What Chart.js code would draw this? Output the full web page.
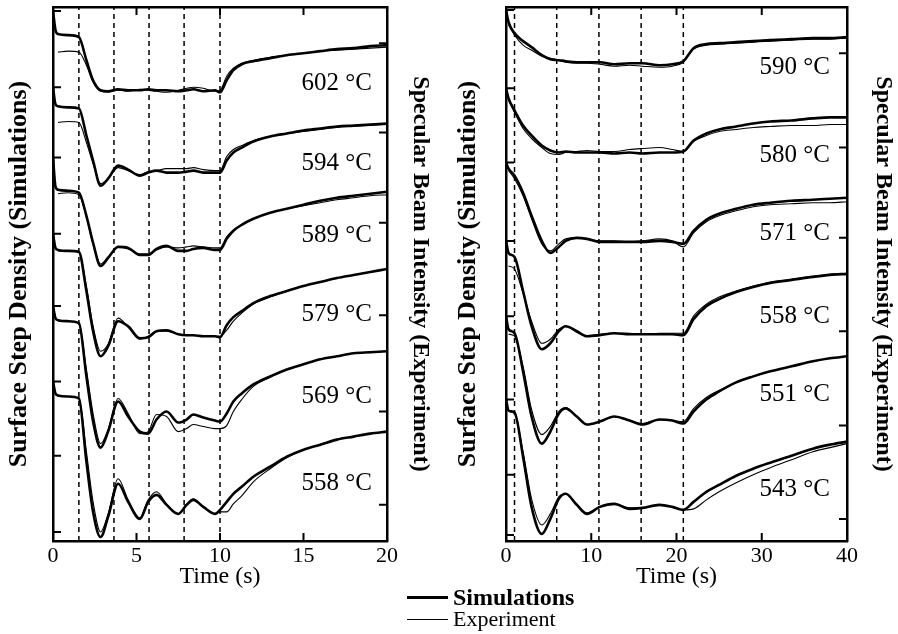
<!DOCTYPE html>
<html>
<head>
<meta charset="utf-8">
<script src="https://cdn.jsdelivr.net/npm/chart.js@4.4.1/dist/chart.umd.min.js"></script>
<style>
  html, body { margin: 0; padding: 0; background: #fff; }
  #wrap { position: relative; width: 898px; height: 634px; font-family: "Liberation Serif", serif; color: #000; }
  #leftChart { position: absolute; left: 0; top: 0; }
  #rightChart { position: absolute; left: 450px; top: 0; }
  .key { position: absolute; left: 407px; width: 41px; background: #000; }
  .keyText { position: absolute; left: 453px; line-height: 1; }
</style>
</head>
<body>
<div id="wrap">
  <canvas id="leftChart" width="440" height="600"></canvas>
  <canvas id="rightChart" width="448" height="600"></canvas>
  <div class="key" style="top:596px;height:3px"></div>
  <div class="keyText" style="top:585px;font-size:24px;font-weight:bold">Simulations</div>
  <div class="key" style="top:619px;height:1.2px"></div>
  <div class="keyText" style="top:608px;font-size:22px">Experiment</div>
</div>
<script>
// ---- left panel (0-20 s), arbitrary intensity units, curves stacked ----
const timeLeft = [0, 0.15, 0.3, 0.9, 1.55, 2.0, 2.4, 2.85, 3.3, 3.9, 4.5, 5.2, 5.7, 6.2, 6.8, 7.5, 8.0, 8.4, 9.0, 9.7, 10.0, 10.4, 10.8, 11.3, 12, 13, 14, 15, 16, 17, 18, 19, 20];
const sim602 = [52.8, 50.9, 50.5, 50.4, 50.2, 47.9, 45.9, 44.9, 44.8, 45.0, 44.9, 44.9, 45.0, 44.9, 44.9, 44.8, 44.9, 45.0, 44.8, 44.9, 44.7, 45.9, 46.9, 47.5, 47.8, 48.1, 48.4, 48.6, 48.8, 49.0, 49.1, 49.3, 49.4];
const exp602 = [null, null, 48.7, 48.8, 48.7, 47.4, 45.7, 44.8, 44.7, 44.9, 44.8, 45.0, 44.9, 44.8, 44.7, 44.9, 45.1, 45.2, 45.1, 44.8, 44.9, 46.3, 47.1, 47.6, 47.9, 48.2, 48.4, 48.6, 48.8, 48.9, 49.0, 49.1, 49.2];
const sim594 = [45.2, 43.5, 43.3, 43.2, 43.1, 40.4, 37.9, 35.4, 36.1, 37.4, 37.0, 36.4, 36.7, 36.9, 36.7, 36.7, 36.8, 36.9, 36.7, 36.7, 36.7, 37.9, 38.7, 39.2, 39.8, 40.3, 40.6, 40.9, 41.1, 41.3, 41.4, 41.5, 41.6];
const exp594 = [null, null, 41.7, 41.8, 41.7, 39.7, 37.6, 35.6, 36.1, 37.2, 36.9, 36.5, 36.8, 36.9, 37.1, 37.1, 37.1, 37.2, 37.0, 36.9, 36.9, 38.3, 39.0, 39.4, 39.9, 40.3, 40.6, 40.8, 41.0, 41.2, 41.3, 41.4, 41.5];
const sim589 = [38.2, 35.3, 35.0, 34.9, 34.7, 32.4, 29.7, 27.4, 28.2, 29.3, 29.2, 28.5, 28.5, 29.1, 29.4, 28.9, 28.9, 29.1, 29.2, 29.0, 29.0, 30.1, 30.9, 31.5, 32.1, 32.7, 33.1, 33.5, 33.9, 34.2, 34.4, 34.6, 34.8];
const exp589 = [null, null, 34.6, 34.7, 34.5, 32.3, 29.6, 27.6, 28.3, 29.3, 29.1, 28.6, 28.6, 29.0, 29.3, 29.2, 29.3, 29.4, 29.3, 29.2, 29.2, 30.3, 31.0, 31.5, 32.1, 32.7, 33.1, 33.4, 33.7, 34.0, 34.2, 34.4, 34.5];
const sim579 = [30.6, 29.2, 29.0, 28.9, 28.8, 24.9, 20.9, 18.4, 19.4, 21.9, 21.4, 20.2, 20.3, 20.9, 21.0, 20.6, 20.5, 20.5, 20.4, 20.4, 20.3, 21.5, 22.3, 22.9, 23.7, 24.4, 24.9, 25.4, 25.8, 26.2, 26.5, 26.8, 27.1];
const exp579 = [null, null, 28.9, 28.9, 28.8, 25.4, 21.4, 18.9, 19.6, 22.2, 21.3, 20.1, 20.4, 20.9, 20.9, 20.6, 20.5, 20.5, 20.4, 20.4, 20.4, 21.0, 21.9, 22.7, 23.6, 24.3, 24.9, 25.4, 25.8, 26.2, 26.5, 26.8, 27.1];
const sim569 = [23.4, 22.2, 22.0, 21.9, 21.7, 16.4, 11.9, 9.3, 10.9, 13.9, 12.4, 10.9, 10.7, 12.1, 12.9, 11.8, 12.1, 12.6, 12.3, 12.0, 11.9, 12.7, 13.9, 14.7, 15.6, 16.4, 17.1, 17.6, 18.1, 18.4, 18.7, 18.8, 18.9];
const exp569 = [null, null, 21.9, 21.9, 21.7, 17.1, 12.7, 9.7, 11.1, 14.2, 12.7, 10.7, 10.9, 12.6, 12.4, 10.9, 11.2, 11.6, 11.4, 11.2, 11.2, 11.5, 12.9, 14.1, 15.4, 16.3, 17.0, 17.6, 18.1, 18.4, 18.7, 18.8, 18.9];
const sim558a = [15.9, 14.7, 14.5, 14.4, 14.2, 7.9, 2.9, 0.4, 2.4, 5.7, 3.9, 2.2, 3.9, 4.6, 3.6, 2.7, 3.6, 4.1, 3.4, 2.7, 3.1, 3.9, 4.7, 5.4, 6.4, 7.4, 8.4, 9.1, 9.6, 10.1, 10.4, 10.7, 10.9];
const exp558a = [null, null, 14.4, 14.4, 14.2, 8.9, 3.9, 0.9, 2.7, 6.2, 4.1, 2.3, 4.1, 4.9, 3.7, 2.7, 3.7, 4.2, 3.4, 2.7, 2.9, 2.9, 3.7, 4.5, 5.9, 7.2, 8.3, 9.1, 9.6, 10.1, 10.4, 10.7, 10.9];
const tempsLeft = ['602 °C', '594 °C', '589 °C', '579 °C', '569 °C', '558 °C'];
const dashesLeft = [1.55, 3.65, 5.75, 7.85, 10];
const simTicksLeft = [52.8, 45.2, 38.2, 30.6, 23.4, 15.9, 8.5, 0.9];
const expTicksLeft = [49.6, 40.7, 31.7, 22.5, 12.9, 3.6];

// ---- right panel (0-40 s) ----
const timeRight = [0, 0.3, 1.0, 2.0, 3.0, 4.2, 5.2, 6.2, 7.0, 8.3, 9.5, 11, 12.7, 14.5, 16, 18, 19.5, 20.8, 22, 23.5, 25, 27, 29, 31, 33.5, 36, 38, 40];
const sim590 = [52.9, 51.7, 50.6, 49.8, 49.2, 48.4, 48.0, 47.9, 47.8, 47.7, 47.7, 47.7, 47.5, 47.6, 47.6, 47.4, 47.5, 47.8, 49.1, 49.5, 49.6, 49.7, 49.8, 49.9, 50.0, 50.1, 50.1, 50.2];
const exp590 = [null, 51.4, 50.4, 49.4, 48.9, 48.3, 48.1, 47.9, 47.7, 47.6, 47.6, 47.5, 47.3, 47.4, 47.3, 47.2, 47.3, 47.7, 49.0, 49.4, 49.5, 49.6, 49.7, 49.8, 49.9, 50.0, 50.0, 50.1];
const sim580 = [45.1, 44.1, 42.9, 41.4, 40.4, 39.4, 38.9, 38.7, 38.8, 38.7, 38.7, 38.7, 38.6, 38.7, 38.6, 38.7, 38.7, 38.8, 39.9, 40.6, 41.0, 41.3, 41.6, 41.8, 41.9, 42.1, 42.2, 42.2];
const exp580 = [null, 43.9, 42.7, 41.1, 40.1, 39.2, 38.6, 38.5, 38.7, 38.8, 38.9, 38.8, 38.8, 39.0, 39.1, 39.2, 39.0, 38.8, 39.8, 40.4, 40.8, 41.0, 41.2, 41.3, 41.4, 41.4, 41.5, 41.5];
const sim571 = [37.7, 37.1, 36.4, 34.7, 32.4, 29.9, 28.7, 29.3, 29.9, 30.2, 30.1, 29.8, 29.8, 29.8, 29.8, 29.9, 29.8, 29.6, 30.9, 32.0, 32.6, 33.1, 33.5, 33.7, 33.9, 34.0, 34.1, 34.2];
const exp571 = [null, 36.9, 36.1, 34.4, 32.1, 29.6, 28.9, 29.6, 30.1, 30.2, 30.1, 29.9, 29.9, 29.8, 29.9, 30.1, 29.9, 29.3, 30.7, 31.8, 32.4, 32.9, 33.3, 33.5, 33.6, 33.7, 33.7, 33.8];
const sim558b = [29.9, 28.7, 28.3, 24.9, 21.4, 19.1, 19.7, 20.9, 21.4, 20.9, 20.4, 20.5, 20.7, 20.6, 20.6, 20.6, 20.6, 20.5, 22.1, 23.4, 24.1, 24.8, 25.3, 25.7, 26.0, 26.3, 26.5, 26.6];
const exp558b = [null, 27.4, 27.1, 24.7, 21.9, 19.7, 20.1, 21.1, 21.4, 20.8, 20.4, 20.6, 20.7, 20.7, 20.6, 20.7, 20.7, 20.7, 22.4, 23.6, 24.3, 24.9, 25.4, 25.8, 26.1, 26.4, 26.6, 26.7];
const sim551 = [22.4, 21.1, 20.7, 16.9, 12.4, 9.7, 10.9, 12.7, 13.2, 12.4, 11.6, 11.9, 12.4, 12.0, 11.6, 12.1, 12.0, 11.7, 12.9, 14.1, 14.9, 15.8, 16.4, 16.9, 17.4, 17.9, 18.2, 18.4];
const exp551 = [null, 20.6, 20.4, 17.4, 13.1, 10.6, 11.4, 12.9, 13.3, 12.4, 11.6, 11.9, 12.4, 12.0, 11.7, 12.1, 12.0, 11.9, 13.2, 14.3, 15.0, 15.8, 16.4, 16.9, 17.4, 17.9, 18.2, 18.4];
const sim543 = [14.1, 13.0, 12.8, 8.4, 3.4, 0.7, 2.2, 4.2, 4.7, 3.6, 2.7, 3.4, 3.7, 3.2, 3.3, 3.6, 3.4, 3.1, 3.9, 4.9, 5.6, 6.5, 7.2, 7.8, 8.5, 9.2, 9.6, 9.9];
const exp543 = [null, 12.9, 12.7, 8.9, 4.2, 1.6, 2.7, 4.4, 4.7, 3.7, 2.8, 3.4, 3.7, 3.3, 3.3, 3.6, 3.4, 3.1, 3.2, 4.1, 4.9, 5.8, 6.6, 7.3, 8.1, 8.9, 9.3, 9.7];
const tempsRight = ['590 °C', '580 °C', '571 °C', '558 °C', '551 °C', '543 °C'];
const dashesRight = [1.0, 5.95, 10.9, 15.85, 20.8];
const simTicksRight = [52.9, 45.1, 37.7, 29.9, 22.4, 14.1, 6.6, 0.6];
const expTicksRight = [48.6, 39.2, 30.2, 20.9, 11.5, 2.2];

const Y_MIN = 0, Y_MAX = 53.2;
const SERIF = '"Liberation Serif", "Times New Roman", serif';
Chart.defaults.font.family = SERIF;
Chart.defaults.color = '#000';

function pairs(times, vals) {
  return times.map((t, i) => ({ x: t, y: vals[i] }));
}

// inward tick marks and the temperature labels
const panelMarks = {
  id: 'panelMarks',
  afterDatasetsDraw(chart, args, opts) {
    const { ctx, chartArea: a, scales } = chart;
    const x = scales.x, y = scales.y;
    ctx.save();
    ctx.strokeStyle = '#000';
    ctx.lineWidth = 2;
    ctx.beginPath();
    opts.simTicks.forEach(v => {
      const py = y.getPixelForValue(v);
      ctx.moveTo(a.left, py); ctx.lineTo(a.left + 8, py);
    });
    opts.expTicks.forEach(v => {
      const py = y.getPixelForValue(v);
      ctx.moveTo(a.right, py); ctx.lineTo(a.right - 8, py);
    });
    x.ticks.forEach(t => {
      const px = x.getPixelForValue(t.value);
      ctx.moveTo(px, a.bottom); ctx.lineTo(px, a.bottom - 8);
      ctx.moveTo(px, a.top); ctx.lineTo(px, a.top + 8);
    });
    ctx.stroke();
    ctx.fillStyle = '#000';
    ctx.font = '25px ' + SERIF;
    ctx.textAlign = 'right';
    ctx.textBaseline = 'middle';
    opts.labels.forEach((txt, i) => {
      ctx.fillText(txt, x.getPixelForValue(opts.labelT), y.getPixelForValue(opts.labelY[i]));
    });
    ctx.restore();
  }
};

function buildPanel(id, p) {
  const datasets = [];
  p.curves.forEach(c => {
    datasets.push({ label: 'Simulations', data: pairs(p.time, c[0]), borderColor: '#000', borderWidth: 2.6,
      pointRadius: 0, cubicInterpolationMode: 'monotone' });
    datasets.push({ label: 'Experiment', data: pairs(p.time, c[1]), borderColor: '#000', borderWidth: 1.1,
      pointRadius: 0, cubicInterpolationMode: 'monotone' });
  });
  p.dashes.forEach(t => {
    datasets.push({ data: [{ x: t, y: Y_MIN }, { x: t, y: Y_MAX }], borderColor: '#000', borderWidth: 1.5,
      borderDash: [5, 4], pointRadius: 0 });
  });

  const box = { display: true, width: 2.5, color: '#000' };
  const noGrid = { display: false, drawTicks: false };
  const yTitle = (text, size, pad) => ({ display: true, text: text, color: '#000',
    font: { size: size, weight: 'bold', lineHeight: 1.2 }, padding: pad });

  return new Chart(document.getElementById(id), {
    type: 'line',
    data: { datasets: datasets },
    plugins: [panelMarks],
    options: {
      responsive: false,
      animation: false,
      layout: { padding: { top: 7, bottom: 11, left: 0, right: 0 } },
      plugins: {
        legend: { display: false },
        tooltip: { enabled: false },
        panelMarks: { simTicks: p.simTicks, expTicks: p.expTicks, labels: p.temps, labelT: p.labelT, labelY: p.labelY }
      },
      scales: {
        x: { type: 'linear', min: 0, max: p.tMax, grid: noGrid, border: box,
          ticks: { stepSize: p.step, padding: 4, font: { size: 22, lineHeight: 1 } },
          title: { display: true, text: 'Time (s)', font: { size: 24, lineHeight: 1 }, padding: { top: -6, bottom: 0 } } },
        x2: { type: 'linear', position: 'top', min: 0, max: p.tMax, grid: noGrid, border: box,
          ticks: { display: false } },
        y: { type: 'linear', min: Y_MIN, max: Y_MAX, grid: noGrid, border: box,
          ticks: { display: false },
          title: yTitle('Surface Step Density (Simulations)', 26, p.leftPad) },
        y2: { type: 'linear', position: 'right', min: Y_MIN, max: Y_MAX, grid: noGrid, border: box,
          ticks: { display: false },
          title: yTitle('Specular Beam Intensity (Experiment)', 24, p.rightPad) }
      }
    }
  });
}

buildPanel('leftChart', {
  time: timeLeft, tMax: 20, step: 5,
  curves: [[sim602, exp602], [sim594, exp594], [sim589, exp589], [sim579, exp579], [sim569, exp569], [sim558a, exp558a]],
  dashes: dashesLeft, simTicks: simTicksLeft, expTicks: expTicksLeft,
  temps: tempsLeft, labelT: 19.1, labelY: [45.6, 37.6, 30.4, 22.6, 14.4, 5.7],
  leftPad: { top: 3.4, bottom: 18.4 }, rightPad: { top: 5, bottom: 19.2 }
});

buildPanel('rightChart', {
  time: timeRight, tMax: 40, step: 10,
  curves: [[sim590, exp590], [sim580, exp580], [sim571, exp571], [sim558b, exp558b], [sim551, exp551], [sim543, exp543]],
  dashes: dashesRight, simTicks: simTicksRight, expTicks: expTicksRight,
  temps: tempsRight, labelT: 38.0, labelY: [47.2, 38.4, 30.6, 22.4, 14.6, 5.1],
  leftPad: { top: 2.4, bottom: 22.4 }, rightPad: { top: 0, bottom: 22.2 }
});
</script>
</body>
</html>
